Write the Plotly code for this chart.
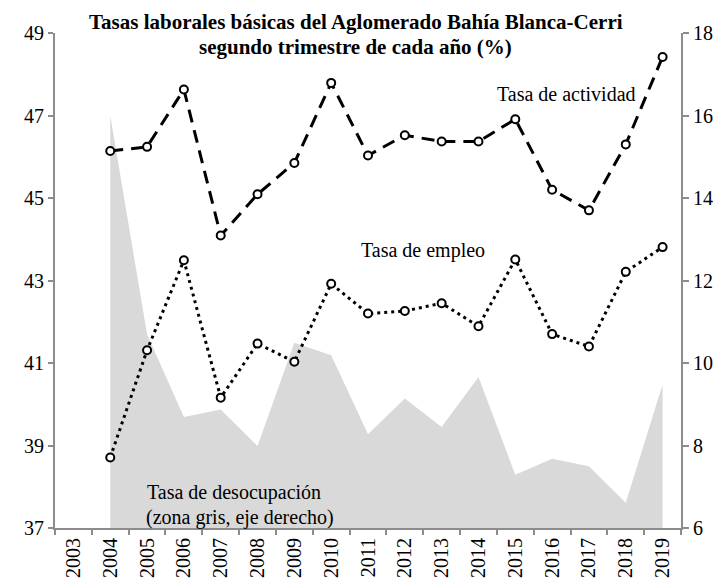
import plotly.graph_objects as go

years = [str(y) for y in range(2003, 2020)]
years_data = [str(y) for y in range(2004, 2020)]

actividad = [46.14, 46.24, 47.63, 44.09, 45.09, 45.85, 47.79, 46.03, 46.52, 46.37,
             46.37, 46.91, 45.20, 44.70, 46.30, 48.42]
empleo = [38.71, 41.31, 43.49, 40.16, 41.47, 41.03, 42.92, 42.20, 42.26, 42.45,
          41.89, 43.51, 41.70, 41.40, 43.21, 43.81]
desocupacion = [16.0, 10.7, 8.69, 8.87, 7.99, 10.49, 10.19, 8.27, 9.14, 8.45,
                9.66, 7.29, 7.68, 7.50, 6.61, 9.48]

FONT = "Liberation Serif, Times New Roman, serif"
AXC = "#8c8c8c"
FS = 20

fig = go.Figure()

fig.add_trace(go.Scatter(
    x=years_data, y=desocupacion, yaxis="y", mode="lines",
    line=dict(width=0, color="#d9d9d9"), fill="tozeroy", fillcolor="#d9d9d9",
    hoverinfo="skip", showlegend=False))

fig.add_trace(go.Scatter(
    x=years_data, y=actividad, yaxis="y2", mode="lines+markers",
    line=dict(color="black", width=3, dash="13px,8px"),
    marker=dict(symbol="circle", size=8, color="white", line=dict(color="black", width=2)),
    showlegend=False))

fig.add_trace(go.Scatter(
    x=years_data, y=empleo, yaxis="y2", mode="lines+markers",
    line=dict(color="black", width=3, dash="3px,4px"),
    marker=dict(symbol="circle", size=8, color="white", line=dict(color="black", width=2)),
    showlegend=False))

# page body has an 8px margin; plot area target (page px): x 55..681.5, y 32.7..528
OFF = 8
fig.update_layout(
    width=725, height=584,
    margin=dict(l=55 - OFF, r=725 - (681.5 - OFF), t=32.7 - OFF, b=584 - (528 - OFF)),
    paper_bgcolor="white", plot_bgcolor="white",
    font=dict(family=FONT, size=FS, color="black"),
    xaxis=dict(type="category", categoryorder="array", categoryarray=years,
               range=[-0.5, 16.5], showgrid=False, zeroline=False,
               showline=True, linecolor=AXC, linewidth=2, automargin=False,
               ticks="outside", ticklen=5, tickcolor=AXC, tickwidth=1.5,
               tickson="boundaries", tickangle=-90,
               tickfont=dict(family=FONT, size=FS)),
    yaxis=dict(range=[6, 18], tick0=6, dtick=2, side="right", showgrid=False, zeroline=False,
               showline=True, linecolor=AXC, linewidth=2, automargin=False,
               ticks="outside", ticklen=6, tickcolor=AXC, tickwidth=1.5,
               tickfont=dict(family=FONT, size=FS)),
    yaxis2=dict(range=[37, 49], tick0=37, dtick=2, side="left", overlaying="y", showgrid=False,
                zeroline=False, showline=True, linecolor=AXC, linewidth=2, automargin=False,
                ticks="outside", ticklen=5, tickcolor=AXC, tickwidth=1.5,
                tickfont=dict(family=FONT, size=FS)),
)

anns = [
    dict(text="<b>Tasas laborales básicas del Aglomerado Bahía Blanca-Cerri</b>",
         x=356, y=22, size=21),
    dict(text="<b>segundo trimestre de cada año (%)</b>", x=356, y=47, size=21),
    dict(text="Tasa de actividad", x=567, y=94, size=FS),
    dict(text="Tasa de empleo", x=423, y=250, size=FS),
    dict(text="Tasa de desocupación", x=234, y=492, size=FS),
    dict(text="(zona gris, eje derecho)", x=240, y=517, size=FS),
]
for a in anns:
    fig.add_annotation(text=a["text"], xref="paper", yref="paper",
                       x=(a["x"] - 55) / 626.5, y=1 - (a["y"] - 32.7) / 495.3,
                       xanchor="center", yanchor="middle", showarrow=False,
                       font=dict(family=FONT, size=a["size"], color="black"))

fig.write_html("out.html")
